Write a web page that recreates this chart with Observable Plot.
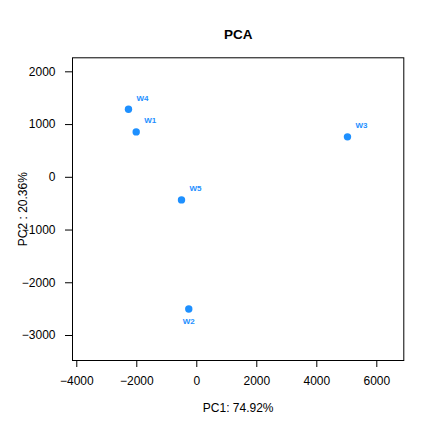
<!DOCTYPE html>
<html>
<head>
<meta charset="utf-8">
<script src="https://cdn.jsdelivr.net/npm/d3@7"></script>
<script src="https://cdn.jsdelivr.net/npm/@observablehq/plot@0.6"></script>
<style>
html,body{margin:0;padding:0;background:#fff;}
#chart{width:432px;height:432px;}
svg{font-family:"Liberation Sans",Arial,sans-serif;}
</style>
</head>
<body>
<div id="chart"></div>
<script>
const samples = ["W1", "W2", "W3", "W4", "W5"];
const pc1 = [-2020, -267, 5023, -2277, -510];
const pc2 = [861, -2497, 767, 1290, -429];
const xTicks = [-4000, -2000, 0, 2000, 4000, 6000];
const yTicks = [-3000, -2000, -1000, 0, 1000, 2000];
const titleText = "PCA";
const xLabel = "PC1: 74.92%";
const yLabel = "PC2 : 20.36%";
const pointColor = "#1E90FF";

const data = samples.map((s, i) => ({name: s, x: pc1[i], y: pc2[i]}));
const fmt = d => d < 0 ? "\u2212" + Math.abs(d) : String(d);

const plot = Plot.plot({
  width: 432,
  height: 432,
  marginLeft: 72,
  marginRight: 28.7,
  marginTop: 57.3,
  marginBottom: 72,
  style: {fontFamily: "'Liberation Sans', Arial, sans-serif", background: "#fff"},
  x: {domain: [-4143, 6900]},
  y: {domain: [-3474, 2266]},
  marks: [
    Plot.frame({stroke: "#000", strokeWidth: 1}),
    Plot.axisX({ticks: xTicks, tickFormat: fmt, tickSize: 7, tickPadding: 9, fontSize: 12, label: null, color: "#000"}),
    Plot.axisY({ticks: yTicks, tickFormat: fmt, tickSize: 7, tickPadding: 10, fontSize: 12, label: null, color: "#000"}),
    Plot.dot(data, {x: "x", y: "y", r: 3.7, fill: pointColor, stroke: null}),
    Plot.text(data.filter(d => d.name !== "W2"), {x: "x", y: "y", text: "name", fill: pointColor, fontSize: 8, fontWeight: "bold", textAnchor: "start", dx: 8, dy: -11}),
    Plot.text(data.filter(d => d.name === "W2"), {x: "x", y: "y", text: "name", fill: pointColor, fontSize: 8, fontWeight: "bold", textAnchor: "middle", dy: 12}),
    Plot.text([titleText], {frameAnchor: "top", text: d => d, fontSize: 13.5, fontWeight: "bold", textAnchor: "middle", dy: -28, fill: "#000"}),
    Plot.text([xLabel], {frameAnchor: "bottom", text: d => d, fontSize: 12, textAnchor: "middle", dy: 51, fill: "#000"}),
    Plot.text([yLabel], {frameAnchor: "left", text: d => d, fontSize: 12, rotate: -90, textAnchor: "middle", dx: -49, fill: "#000"})
  ]
});
document.getElementById("chart").appendChild(plot);
</script>
</body>
</html>
